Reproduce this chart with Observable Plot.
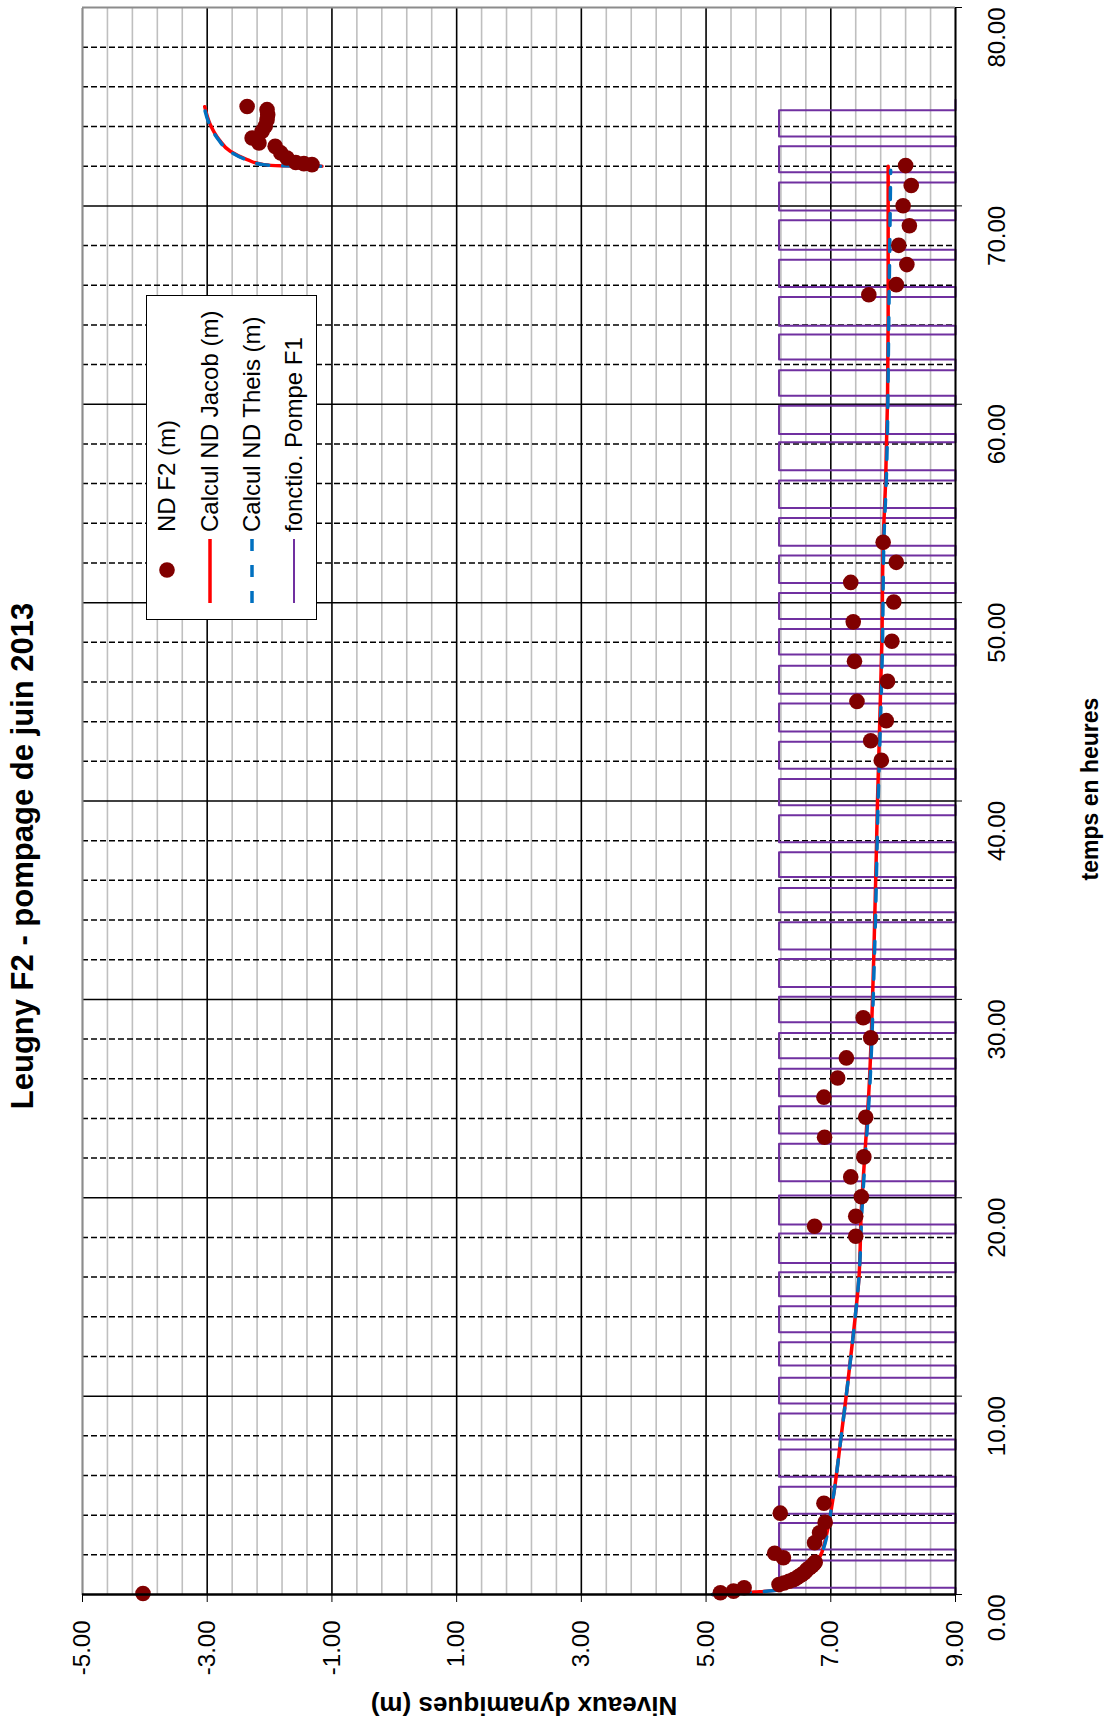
<!DOCTYPE html>
<html><head><meta charset="utf-8">
<script src="https://cdn.jsdelivr.net/npm/d3@7"></script>
<script src="https://cdn.jsdelivr.net/npm/@observablehq/plot@0.6"></script>
<style>
html,body{margin:0;padding:0;width:1105px;height:1726px;overflow:hidden;background:#fff;}
#rot{position:absolute;left:0;top:0;width:1726px;height:1105px;transform-origin:0 0;transform:translateY(1726px) rotate(-90deg);font-family:"Liberation Sans",Arial,sans-serif;color:#000;}
#chart{position:absolute;left:0;top:0;}
.lab{position:absolute;white-space:nowrap;font-weight:bold;line-height:1;}
#legend{position:absolute;left:1106px;top:146px;width:325px;height:171px;border:1.5px solid #000;background:#fff;box-sizing:border-box;}
</style></head><body>
<div id="rot">
  <div id="chart"></div>
  <div class="lab" id="title" style="left:870px;top:22px;font-size:31px;transform:translate(-50%,-50%);">Leugny F2 - pompage de juin 2013</div>
  <div class="lab" id="ylab" style="left:20px;top:524px;font-size:26px;transform:translate(-50%,-50%) rotate(-90deg);">Niveaux dynamiques (m)</div>
  <div class="lab" id="xlab" style="left:937px;top:1090px;font-size:23px;transform:translate(-50%,-50%);">temps en heures</div>
  <div id="legend"></div>
</div>
<script>
// ---- data ----
const ndTime = [0.05,0.09,0.17,0.34,0.50,0.58,0.67,0.75,0.83,0.92,1.00,1.08,1.17,1.26,1.35,1.45,1.55,1.63,1.85,2.08,2.61,3.11,3.64,4.10,4.60,
  18.06,18.56,19.07,20.05,21.05,22.06,23.05,24.06,25.07,26.04,27.05,28.06,29.07,
  42.05,43.04,44.05,45.02,46.03,47.04,48.05,49.03,50.03,51.02,52.03,53.04,
  65.52,66.03,67.04,68.01,69.00,70.01,71.03,72.03,
  72.08,72.13,72.19,72.41,72.67,73.00,73.17,73.42,73.76,74.01,74.34,74.59,74.85,75.01];
const ndLevel = [-4.03,5.23,5.44,5.61,6.17,6.25,6.33,6.40,6.45,6.49,6.53,6.57,6.60,6.62,6.66,6.70,6.73,6.75,6.24,6.10,6.74,6.82,6.91,6.19,6.89,
  7.40,6.74,7.40,7.49,7.32,7.53,6.90,7.56,6.89,7.11,7.25,7.64,7.52,
  7.81,7.64,7.89,7.42,7.91,7.38,7.98,7.36,8.01,7.32,8.05,7.84,
  7.61,8.05,8.22,8.09,8.26,8.16,8.29,8.20,
  -1.32,-1.45,-1.58,-1.72,-1.82,-1.91,-2.17,-2.28,-2.12,-2.07,-2.04,-2.03,-2.04,-2.36];

const jacobTime  = [0,0.05,0.12,0.22,0.45,0.9,1.4,1.93,2.6,3.61,5.13,7.81,10.33,13.36,15.9,19.4,21.9,25.3,32.2,40.1,48.1,53.0,56.2,64.3,72.0];
const jacobLevel = [5.10,5.45,5.77,6.14,6.35,6.55,6.70,6.83,6.90,6.97,7.05,7.16,7.26,7.37,7.45,7.49,7.54,7.61,7.69,7.75,7.82,7.84,7.88,7.92,7.92];
const jacobRecTime  = [72.0,72.02,72.08,72.33,72.75,73.34,74.09,75.0];
const jacobRecLevel = [-1.16,-1.82,-2.09,-2.36,-2.63,-2.81,-2.95,-3.04];

const theisTime  = [0,0.05,0.12,0.22,0.45,0.9,1.4,1.93,2.6,3.61,5.13,7.81,10.33,13.36,15.9,19.4,21.9,25.3,32.2,40.1,48.1,53.0,56.2,64.3,71.8];
const theisLevel = [5.10,5.46,5.78,6.14,6.36,6.55,6.70,6.83,6.91,6.97,7.05,7.16,7.26,7.37,7.45,7.50,7.55,7.62,7.70,7.76,7.83,7.85,7.89,7.93,7.96];
const theisRecTime  = [72.0,72.02,72.08,72.33,72.75,73.34,74.09,75.0];
const theisRecLevel = [-1.18,-1.83,-2.10,-2.37,-2.64,-2.82,-2.96,-3.05];

const pumpOn  = [0,1.71,3.61,5.43,7.31,9.12,10.92,12.72,14.53,16.25,18.20,20.11,22.72,24.61,26.50,28.31,30.13,32.04,33.89,35.62,37.42,39.28,41.11,42.99,44.91,46.82,48.67,50.49,52.37,54.27,56.16,58.08,59.93,61.72,63.51,65.41,67.29,69.27,71.18,73.00,74.82];
const pumpOff = [0.34,2.27,4.07,5.93,7.81,9.63,11.54,13.22,15.04,16.71,18.65,20.83,23.24,25.12,27.03,28.85,30.63,32.51,34.39,36.17,37.92,39.78,41.62,43.50,45.41,47.38,49.18,50.99,52.87,54.77,56.67,58.50,60.43,62.25,63.96,65.91,67.79,69.77,71.69,73.50,75.35];
const pumpLevels = [6.17, 9.0]; // [arrêt, marche]

const levelTicks = [-5,-3,-1,1,3,5,7,9];
const timeTicks = [0,10,20,30,40,50,60,70,80];
const levelMinor = d3.range(-5, 9.001, 0.4).map(v => +v.toFixed(2));
const timeMinor = d3.range(0, 80.001, 2).filter(v => v % 10 !== 0);
const levelMajorInner = [-3,-1,1,3,5,7];
const timeMajorInner = [10,20,30,40,50,60,70];

const legendItems = ["ND F2 (m)", "Calcul ND Jacob (m)", "Calcul ND Theis (m)", "fonctio. Pompe F1"];

// ---- tables ----
const nd = ndTime.map((t,i)=>({t, v: ndLevel[i]}));
const mk = (T, L, seg) => T.map((t,i)=>({t, v:L[i], seg}));
const jacob = [...mk(jacobTime, jacobLevel, "a"), ...mk(jacobRecTime, jacobRecLevel, "b")];
const theis = [...mk(theisTime, theisLevel, "a"), ...mk(theisRecTime, theisRecLevel, "b")];
const pump = [];
pumpOn.forEach((t0, i) => {
  const t1 = pumpOff[i];
  if (i > 0) pump.push({t: t0, v: pumpLevels[0]});
  pump.push({t: t0, v: pumpLevels[1]}, {t: t1, v: pumpLevels[1]});
  if (i < pumpOn.length - 1) pump.push({t: t1, v: pumpLevels[0]});
});

const C = {dot:"#800000", jacob:"#ff0000", theis:"#0070c0", pump:"#7030a0"};
const fmt = d => d.toFixed(2);

const chart = Plot.plot({
  width: 1726, height: 1105,
  marginLeft: 131, marginRight: 8, marginTop: 82, marginBottom: 150,
  style: {fontFamily: "'Liberation Sans', Arial, sans-serif", fontSize: "24px", background: "transparent", color: "#000", overflow: "visible"},
  x: {domain: [0, 80], label: null},
  y: {domain: [-5, 9], reverse: true, label: null},
  marks: [
    Plot.ruleY(levelMinor, {stroke: "#bfbfbf", strokeWidth: 1.6}),
    Plot.ruleX(timeMinor, {stroke: "#000", strokeWidth: 1.5, strokeDasharray: "6,3"}),
    Plot.ruleY(levelMajorInner, {stroke: "#000", strokeWidth: 1.5}),
    Plot.ruleX(timeMajorInner, {stroke: "#000", strokeWidth: 1.5}),
    Plot.ruleY([-5], {stroke: "#8c8c8c", strokeWidth: 2}),
    Plot.ruleX([80], {stroke: "#8c8c8c", strokeWidth: 2}),
    Plot.line(pump, {x: "t", y: "v", stroke: C.pump, strokeWidth: 2, curve: "linear"}),
    Plot.line(jacob, {x: "t", y: "v", z: "seg", stroke: C.jacob, strokeWidth: 3.5, curve: "monotone-x"}),
    Plot.line(theis, {x: "t", y: "v", z: "seg", stroke: C.theis, strokeWidth: 3.5, strokeDasharray: "12,14", curve: "monotone-x"}),
    Plot.dot(nd, {x: "t", y: "v", r: 7.8, fill: C.dot, stroke: "none"}),
    Plot.ruleY([9], {stroke: "#000", strokeWidth: 2}),
    Plot.ruleX([0], {stroke: "#000", strokeWidth: 2.5}),
    Plot.axisY({ticks: levelTicks, anchor: "left", tickSize: 7, tickPadding: 19, tickFormat: fmt, label: null, fontSize: 24}),
    Plot.axisX({ticks: timeTicks, anchor: "bottom", tickSize: 7, tickPadding: 25, tickFormat: fmt, label: null, fontSize: 24, textAnchor: "end"})
  ]
});
document.getElementById("chart").appendChild(chart);

// ---- legend ----
const lg = d3.select("#legend").append("svg").attr("width", 322).attr("height", 168)
  .style("position","absolute").style("left","0").style("top","0")
  .style("font-family","'Liberation Sans', Arial, sans-serif").style("font-size","24px");
const rows = [20, 63, 105, 147];
legendItems.forEach((name, i) => {
  const g = lg.append("g").attr("transform", `translate(0,${rows[i]})`);
  if (i === 0) g.append("circle").attr("cx", 49).attr("cy", 0).attr("r", 7.8).attr("fill", C.dot);
  if (i === 1) g.append("line").attr("x1", 16).attr("x2", 80).attr("stroke", C.jacob).attr("stroke-width", 3.5);
  if (i === 2) g.append("line").attr("x1", 16).attr("x2", 80).attr("stroke", C.theis).attr("stroke-width", 3.5).attr("stroke-dasharray", "12,14");
  if (i === 3) g.append("line").attr("x1", 16).attr("x2", 80).attr("stroke", C.pump).attr("stroke-width", 2);
  g.append("text").attr("x", 87).attr("y", 0).attr("dy", "0.35em").text(name);
});
</script>
</body></html>
